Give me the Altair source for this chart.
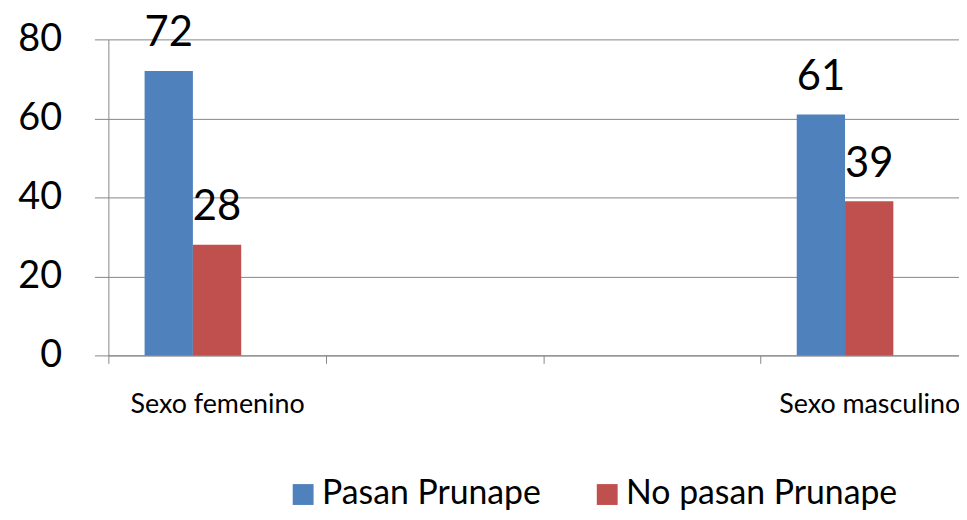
import altair as alt
import pandas as pd

categories = ["Sexo femenino", " ", "  ", "Sexo masculino"]
series = ["Pasan Prunape", "No pasan Prunape"]
slots = ["Pasan Prunape", "No pasan Prunape", ""]
pasan = [72, 61]
no_pasan = [28, 39]
data_cats = ["Sexo femenino", "Sexo masculino"]
y_ticks = [0, 20, 40, 60, 80]
colors = ["#4F81BD", "#C0504D"]

rows = []
for c, a, b in zip(data_cats, pasan, no_pasan):
    rows.append({"cat": c, "serie": series[0], "valor": a})
    rows.append({"cat": c, "serie": series[1], "valor": b})
df = pd.DataFrame(rows)

FONT = "Lato"
GRAY = "#868686"

x = alt.X(
    "cat:N",
    scale=alt.Scale(domain=categories, paddingInner=0, paddingOuter=0, range=[0, 875]),
    axis=alt.Axis(
        title=None,
        labelAngle=0,
        labelFont=FONT,
        labelFontSize=27,
        labelColor="black",
        labelBaseline="alphabetic",
        labelPadding=49,
        tickBand="extent",
        tickSize=8,
        tickColor=GRAY,
        domainColor=GRAY,
        labelLimit=0,
        labelOverlap=False,
    ),
)
xo = alt.XOffset(
    "serie:N", scale=alt.Scale(domain=slots, paddingInner=0, paddingOuter=0.75)
)
y = alt.Y(
    "valor:Q",
    scale=alt.Scale(domain=[0, 80], nice=False),
    axis=alt.Axis(
        title=None,
        values=y_ticks,
        grid=True,
        gridColor=GRAY,
        domainColor=GRAY,
        tickColor=GRAY,
        tickSize=14,
        labelPadding=33,
        labelFont=FONT,
        labelFontSize=38,
        labelColor="black",
    ),
)

bars = alt.Chart(df).mark_bar().encode(
    x=x,
    xOffset=xo,
    y=y,
    color=alt.Color(
        "serie:N",
        scale=alt.Scale(domain=series, range=colors),
        legend=alt.Legend(
            orient="none",
            legendX=179,
            legendY=441,
            direction="horizontal",
            title=None,
            symbolType="square",
            symbolSize=441,
            symbolStrokeWidth=0,
            labelFont=FONT,
            labelFontSize=34,
            labelColor="black",
            labelOffset=2,
            columnPadding=49,
            padding=0,
            labelLimit=0,
        ),
    ),
)

labels = alt.Chart(df).mark_text(
    baseline="alphabetic", align="center", dy=-25, font=FONT, fontSize=42, color="black"
).encode(x=x, xOffset=xo, y=y, text="valor:Q")

chart = (
    alt.layer(bars, labels)
    .properties(
        width=856,
        height=318,
        autosize=alt.AutoSizeParams(type="none"),
        padding={"left": 101, "top": 30, "right": 0, "bottom": 156},
    )
    .configure_view(stroke=None)
)

chart.save("out.html", embed_options={"renderer": "svg", "actions": False})
